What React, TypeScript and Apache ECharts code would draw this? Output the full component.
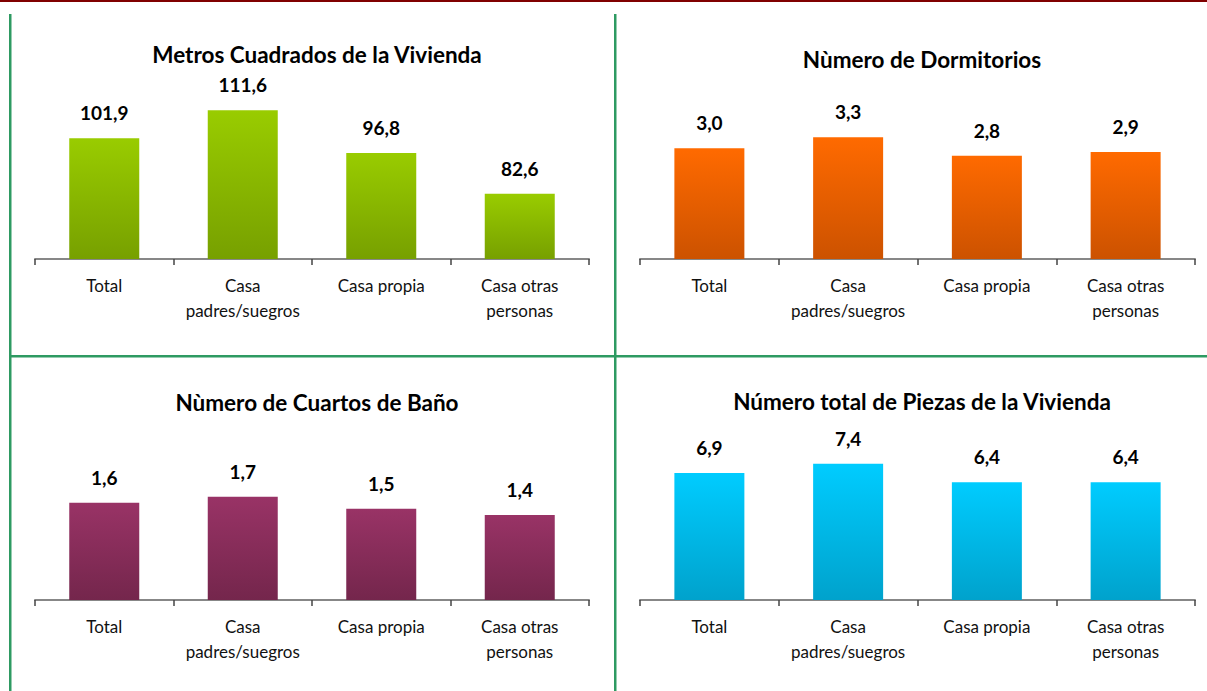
import React, { useEffect, useRef } from "react";
import * as echarts from "echarts";

const categories = ["Total", "Casa\npadres/suegros", "Casa propia", "Casa otras\npersonas"];
const titles = [
  "Metros Cuadrados de la Vivienda",
  "Nùmero de Dormitorios",
  "Nùmero de Cuartos de Baño",
  "Número total de Piezas de la Vivienda",
];
const metros = [101.9, 111.6, 96.8, 82.6];
const dormitorios = [3.0, 3.3, 2.8, 2.9];
const banos = [1.6, 1.7, 1.5, 1.4];
const piezas = [6.9, 7.4, 6.4, 6.4];

const seriesData = [metros, dormitorios, banos, piezas];
const yMin = [60, 0, 0, 0];
const yMax = [120, 4.69, 2.83, 9.35];
const colorsTop = ["#99CC00", "#FF6A00", "#993366", "#00CCFF"];
const colorsBottom = ["#77A000", "#CC5200", "#74264C", "#00A2CC"];

const FONT = "Lato, 'Open Sans', sans-serif";

export default function App() {
  const ref = useRef<HTMLDivElement>(null);
  useEffect(() => {
    if (!ref.current) return;
    const chart = echarts.init(ref.current, null, { renderer: "svg" });
    const grids = [
      { left: 35, width: 554, top: 86, height: 173 },
      { left: 640, width: 555, top: 86, height: 173 },
      { left: 35, width: 554, top: 428, height: 172 },
      { left: 640, width: 555, top: 428, height: 172 },
    ];
    const titleY = [53, 58, 401, 400];
    const titleX = [312, 917, 312, 917];
    const green = "#2E9A62";
    chart.setOption({
      animation: false,
      title: titles.map((t, i) => ({
        text: t,
        left: titleX[i],
        top: titleY[i] - 15,
        textAlign: "center",
        textStyle: { fontFamily: FONT, fontSize: 22.5, fontWeight: "bold", color: "#000" },
      })),
      grid: grids,
      xAxis: grids.map((_, i) => ({
        type: "category",
        gridIndex: i,
        data: categories,
        axisLine: { lineStyle: { color: "#878787", width: 2 } },
        axisTick: { show: true, length: 6, lineStyle: { color: "#444", width: 1.5 } },
        axisLabel: {
          fontFamily: FONT,
          fontSize: 17,
          color: "#111",
          lineHeight: 25,
          margin: 14,
          interval: 0,
        },
      })),
      yAxis: grids.map((_, i) => ({
        type: "value",
        gridIndex: i,
        min: yMin[i],
        max: yMax[i],
        show: false,
        splitLine: { show: false },
      })),
      series: seriesData.map((d, i) => ({
        type: "bar",
        xAxisIndex: i,
        yAxisIndex: i,
        data: d,
        barWidth: 70,
        itemStyle: {
          color: new echarts.graphic.LinearGradient(0, 0, 0, 1, [
            { offset: 0, color: colorsTop[i] },
            { offset: 1, color: colorsBottom[i] },
          ]),
        },
        label: {
          show: true,
          position: "top",
          distance: 16,
          fontFamily: FONT,
          fontSize: 19,
          fontWeight: "bold",
          color: "#000",
          formatter: (p: any) => Number(p.value).toFixed(1).replace(".", ","),
        },
      })),
      graphic: [
        { type: "rect", shape: { x: 0, y: 0, width: 1207, height: 2 }, style: { fill: "#800000" } },
        { type: "rect", shape: { x: 9, y: 14, width: 2.5, height: 677 }, style: { fill: green } },
        { type: "rect", shape: { x: 614, y: 14, width: 2.5, height: 677 }, style: { fill: green } },
        { type: "rect", shape: { x: 9, y: 355, width: 1198, height: 2.5 }, style: { fill: green } },
      ],
    });
    return () => chart.dispose();
  }, []);
  return (
    <div
      ref={ref}
      style={{ position: "absolute", left: 0, top: 0, width: 1207, height: 691, background: "#fff" }}
    />
  );
}
